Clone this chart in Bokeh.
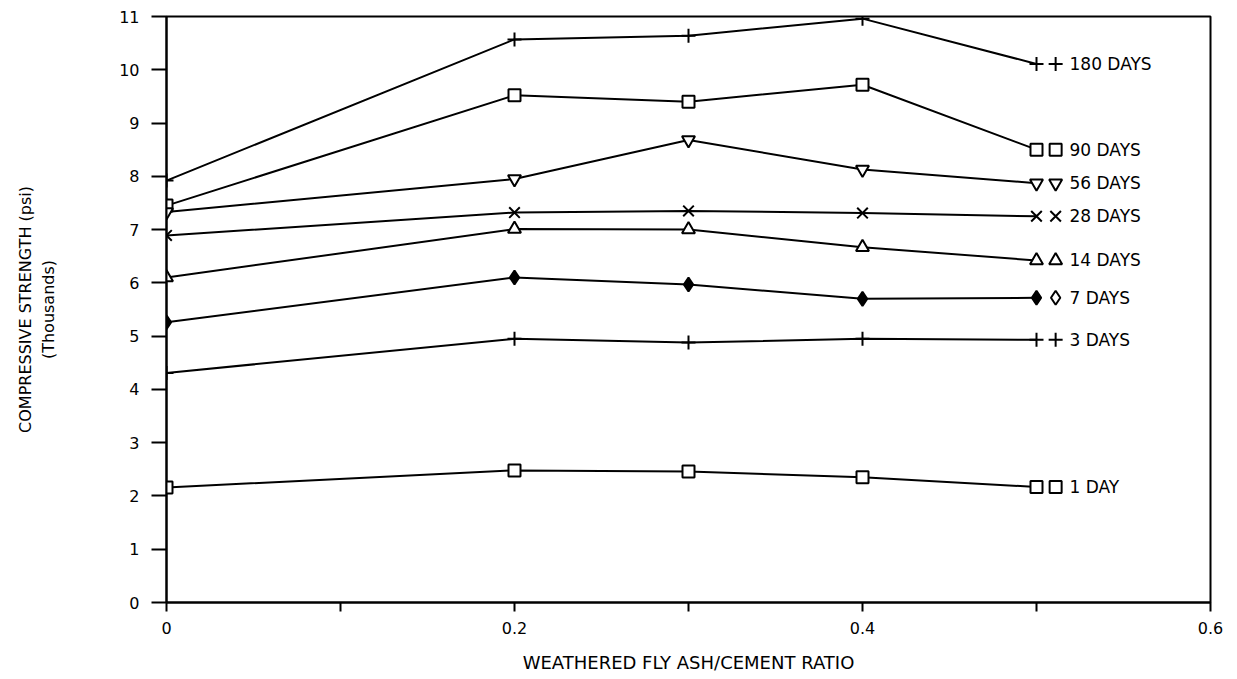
from bokeh.plotting import figure
from bokeh.models import FixedTicker, Range1d
from bokeh.embed import file_html
from bokeh.resources import INLINE
from bokeh.core.properties import value

# ---- data ----
ratio = [0.0, 0.2, 0.3, 0.4, 0.5]
labels = ["180 DAYS", "90 DAYS", "56 DAYS", "28 DAYS", "14 DAYS", "7 DAYS", "3 DAYS", "1 DAY"]
days_180 = [7.92, 10.57, 10.64, 10.96, 10.11]
days_90 = [7.45, 9.52, 9.40, 9.72, 8.50]
days_56 = [7.33, 7.95, 8.68, 8.13, 7.87]
days_28 = [6.89, 7.32, 7.35, 7.31, 7.25]
days_14 = [6.10, 7.01, 7.00, 6.67, 6.42]
days_7 = [5.26, 6.10, 5.97, 5.70, 5.72]
days_3 = [4.31, 4.95, 4.88, 4.95, 4.93]
days_1 = [2.16, 2.48, 2.46, 2.35, 2.17]
x_ticks = [0.0, 0.2, 0.4, 0.6]
x_minor_ticks = [0.1, 0.3, 0.5]
y_ticks = list(range(0, 12))

series = [days_180, days_90, days_56, days_28, days_14, days_7, days_3, days_1]
markers = ["cross", "square", "inverted_triangle", "x", "triangle", "diamond", "cross", "square"]
fills = ["black", "white", "white", "black", "white", "black", "black", "white"]
legend_fills = ["black", "white", "white", "black", "white", "white", "black", "white"]
sizes = [14, 12, 13, 15, 13, 14, 14, 12]

FONT = "DejaVu Sans"

p = figure(frame_width=1044, frame_height=586,
           min_border_left=166, min_border_right=20, min_border_top=16, min_border_bottom=70,
           output_backend="svg", toolbar_location=None,
           x_range=Range1d(0, 0.6), y_range=Range1d(0, 11))
p.background_fill_color = "white"
p.border_fill_color = "white"
p.grid.visible = False
p.outline_line_color = "black"
p.outline_line_width = 2

# axes
p.xaxis.ticker = FixedTicker(ticks=x_ticks, minor_ticks=x_minor_ticks)
p.xaxis.major_label_overrides = {0: "0"}
p.yaxis.ticker = FixedTicker(ticks=y_ticks)
for ax in (p.xaxis[0], p.yaxis[0]):
    ax.axis_line_color = "black"
    ax.axis_line_width = 2
    ax.major_tick_line_color = "black"
    ax.major_tick_line_width = 2
    ax.minor_tick_line_color = "black"
    ax.minor_tick_line_width = 2
    ax.major_tick_in = 0
    ax.minor_tick_in = 0
    ax.major_label_text_font = FONT
    ax.major_label_text_font_size = "16px"
    ax.major_label_text_color = "black"
    ax.axis_label_text_font = FONT
    ax.axis_label_text_font_style = "normal"
    ax.axis_label_text_color = "black"
p.xaxis.major_tick_out = 9
p.xaxis.minor_tick_out = 9
p.xaxis.major_label_standoff = 10
p.yaxis.major_tick_out = 15
p.yaxis.minor_tick_out = 0
p.yaxis.minor_tick_line_color = None
p.yaxis.major_label_standoff = 12

p.xaxis.axis_label = "WEATHERED FLY ASH/CEMENT RATIO"
p.xaxis.axis_label_text_font_size = "18px"
p.xaxis.axis_label_standoff = 15
p.yaxis.axis_label = "COMPRESSIVE STRENGTH (psi)\n(Thousands)"
p.yaxis.axis_label_text_font_size = "16px"
p.yaxis.axis_label_standoff = 58

legend_dx = 0.011  # data-unit gap between last point and the legend symbol

for ys, name, mk, fc, lfc, sz in zip(series, labels, markers, fills, legend_fills, sizes):
    p.line(ratio, ys, line_color="black", line_width=2)
    p.scatter(ratio, ys, marker=mk, size=sz, line_color="black", line_width=2, fill_color=fc)
    # end-of-line legend symbol and label
    p.scatter([ratio[-1] + legend_dx], [ys[-1]], marker=mk, size=sz, line_color="black",
              line_width=2, fill_color=lfc)
    p.text([ratio[-1]], [ys[-1]], text=[name], x_offset=33, text_align="left",
           text_baseline="middle", text_font=value(FONT), text_font_size="17px",
           text_color="black")

open("out.html", "w").write(file_html(p, INLINE))
